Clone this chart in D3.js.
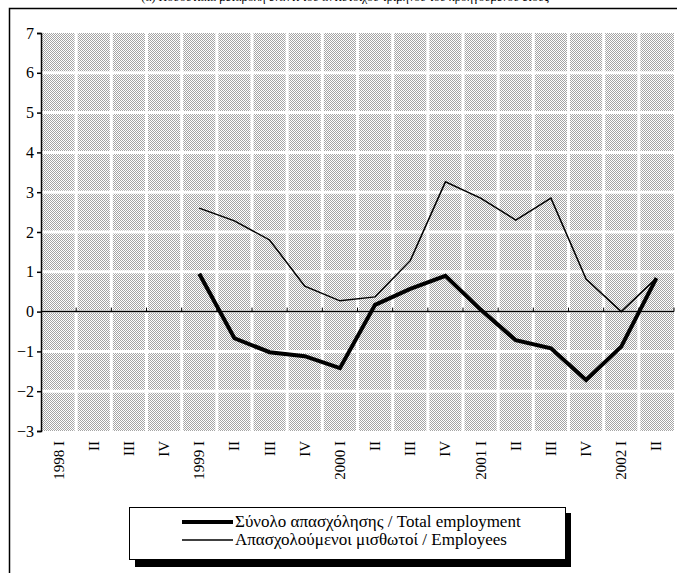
<!DOCTYPE html>
<html>
<head>
<meta charset="utf-8">
<script src="https://cdn.jsdelivr.net/npm/d3@7"></script>
<style>
  body { margin: 0; background: #fff; }
</style>
</head>
<body>
<svg width="677" height="573"></svg>
<script>
// quarters and series
var quarters = ["1998 I", "II", "III", "IV", "1999 I", "II", "III", "IV",
  "2000 I", "II", "III", "IV", "2001 I", "II", "III", "IV", "2002 I", "II"];
var quarterKeys = d3.range(quarters.length);

// first 4 quarters have no data
var totalEmployment = [null, null, null, null, 0.95, -0.67, -1.02, -1.12,
  -1.42, 0.17, 0.57, 0.9, 0.05, -0.72, -0.92, -1.72, -0.88, 0.84];
var employees = [null, null, null, null, 2.6, 2.28, 1.8, 0.64,
  0.27, 0.37, 1.28, 3.26, 2.85, 2.3, 2.85, 0.82, 0.0, 0.84];

var yTicks = [-3, -2, -1, 0, 1, 2, 3, 4, 5, 6, 7];

var legendLabels = ["Σύνολο απασχόλησης / Total employment",
  "Απασχολούμενοι μισθωτοί / Employees"];

var serif = "'Times New Roman', Times, 'Liberation Serif', 'DejaVu Serif', 'Noto Serif', serif";

var svg = d3.select("svg"),
  margin = { top: 33, right: 3, bottom: 142, left: 41 },
  width = +svg.attr("width"),
  height = +svg.attr("height");

const innerWidth = width - margin.left - margin.right;
const innerHeight = height - margin.top - margin.bottom;

// outer frame + cut-off title
svg.append("text")
  .attr("x", 345).attr("y", 0.5)
  .attr("text-anchor", "middle")
  .style("font-family", serif)
  .style("font-size", "12px")
  .text("(α) Ποσοστιαία μεταβολή έναντι του αντίστοιχου τριμήνου του προηγούμενου έτους");

svg.append("path")
  .attr("d", "M9.5,580 V8.5 H690")
  .attr("fill", "none")
  .attr("stroke", "#000")
  .attr("stroke-width", 1.5);

// halftone pattern
var defs = svg.append("defs");
var pat = defs.append("pattern")
  .attr("id", "dots")
  .attr("width", 2).attr("height", 2)
  .attr("patternUnits", "userSpaceOnUse");
pat.append("rect").attr("width", 2).attr("height", 2).attr("fill", "#fff");
pat.append("rect").attr("width", 1).attr("height", 1).attr("fill", "#a4a4a4");
pat.append("rect").attr("x", 1).attr("y", 1).attr("width", 1).attr("height", 1).attr("fill", "#a4a4a4");

const g = svg.append("g").attr("transform", "translate(" + margin.left + "," + margin.top + ")");

const xScale = d3.scaleBand()
  .domain(quarterKeys)
  .range([0, innerWidth]);

const yScale = d3.scaleLinear()
  .domain([-3, 7])
  .range([innerHeight, 0]);

// plot background
g.append("rect")
  .attr("width", innerWidth)
  .attr("height", innerHeight)
  .attr("fill", "url(#dots)");

// white grid gaps
g.selectAll(".hgrid")
  .data(yTicks.slice(1, -1))
  .enter().append("line")
  .attr("x1", 0).attr("x2", innerWidth)
  .attr("y1", d => yScale(d)).attr("y2", d => yScale(d))
  .attr("stroke", "#fff").attr("stroke-width", 3);

g.selectAll(".vgrid")
  .data(quarterKeys.slice(1))
  .enter().append("line")
  .attr("x1", d => xScale(d)).attr("x2", d => xScale(d))
  .attr("y1", 0).attr("y2", innerHeight)
  .attr("stroke", "#fff").attr("stroke-width", 3);

// zero line with upward ticks
g.append("line")
  .attr("x1", 0).attr("x2", innerWidth)
  .attr("y1", yScale(0)).attr("y2", yScale(0))
  .attr("stroke", "#000").attr("stroke-width", 1.5);

g.selectAll(".ztick")
  .data(quarterKeys.slice(1).concat([quarters.length]))
  .enter().append("line")
  .attr("x1", d => d < quarters.length ? xScale(d) : innerWidth)
  .attr("x2", d => d < quarters.length ? xScale(d) : innerWidth)
  .attr("y1", yScale(0)).attr("y2", yScale(0) - 4)
  .attr("stroke", "#000").attr("stroke-width", 1);

// y axis
const yAxis = g.append("g")
  .call(d3.axisLeft(yScale).tickValues(yTicks).tickSize(4).tickSizeOuter(4).tickFormat(d3.format("d")));
yAxis.attr("font-family", null).attr("font-size", null);
yAxis.select(".domain").attr("stroke-width", 1.5);
yAxis.selectAll("line").attr("stroke-width", 1.5);
yAxis.selectAll("text")
  .style("font-family", serif)
  .style("font-size", "16px")
  .attr("fill", "#000")
  .attr("x", -7);

// x labels (rotated)
g.selectAll(".xlab")
  .data(quarterKeys)
  .enter().append("text")
  .attr("transform", d => "translate(" + (xScale(d) + xScale.bandwidth() / 2 + 5) + "," + (innerHeight + 10) + ") rotate(-90)")
  .attr("text-anchor", "end")
  .style("font-family", serif)
  .style("font-size", "15px")
  .text(d => quarters[d]);

// lines
const line = series => d3.line()
  .defined(d => series[d] != null)
  .x(d => xScale(d) + xScale.bandwidth() / 2)
  .y(d => yScale(series[d]))(quarterKeys);

g.append("path")
  .attr("d", line(employees))
  .attr("fill", "none")
  .attr("stroke", "#000")
  .attr("stroke-width", 1.5)
  .attr("stroke-linejoin", "miter");

g.append("path")
  .attr("d", line(totalEmployment))
  .attr("fill", "none")
  .attr("stroke", "#000")
  .attr("stroke-width", 4)
  .attr("stroke-linejoin", "miter");

// -- legend --//
const lg = svg.append("g").attr("transform", "translate(129,507)");
lg.append("rect")
  .attr("x", 6).attr("y", 6)
  .attr("width", 436).attr("height", 54)
  .attr("fill", "#000");
lg.append("rect")
  .attr("x", 0.5).attr("y", 0.5)
  .attr("width", 436).attr("height", 52)
  .attr("fill", "#fff")
  .attr("stroke", "#000");

lg.selectAll(".lgline")
  .data([4, 1.5])
  .enter().append("line")
  .attr("x1", 53).attr("x2", 104)
  .attr("y1", (d, i) => 15 + i * 18).attr("y2", (d, i) => 15 + i * 18)
  .attr("stroke", "#000")
  .attr("stroke-width", d => d);

lg.selectAll(".lgtext")
  .data(legendLabels)
  .enter().append("text")
  .attr("x", 106)
  .attr("y", (d, i) => 20 + i * 18)
  .style("font-family", serif)
  .style("font-size", "17px")
  .text(d => d);
</script>
</body>
</html>
